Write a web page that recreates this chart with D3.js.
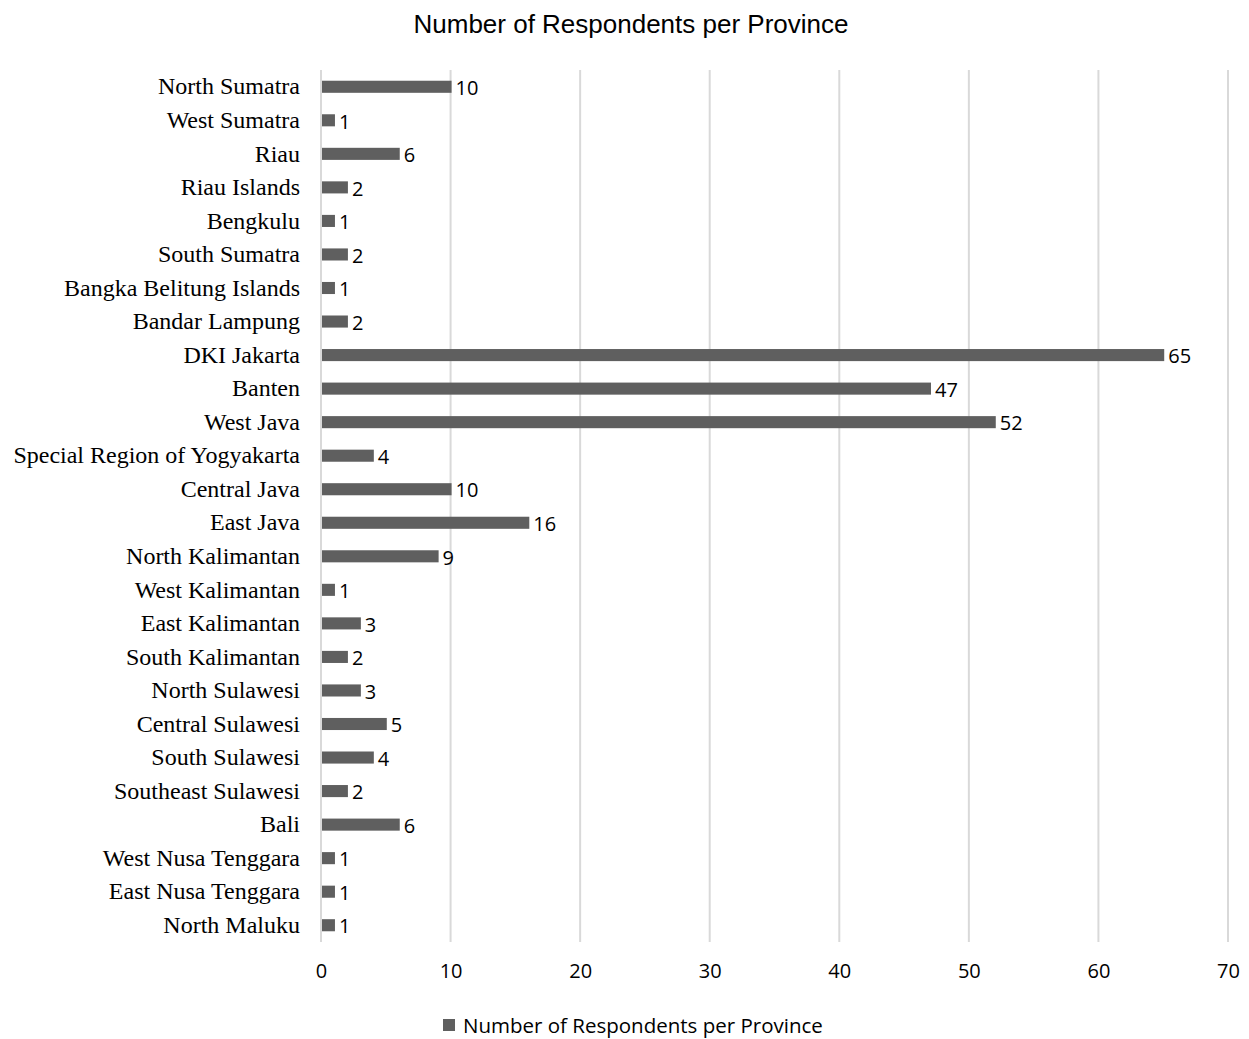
<!DOCTYPE html>
<html>
<head>
<meta charset="utf-8">
<script src="https://cdnjs.cloudflare.com/ajax/libs/d3/7.8.5/d3.min.js"></script>
<style>
  body { margin: 0; background: #fff; }
</style>
</head>
<body>
<div id="chart"></div>
<script>
var provinces = ["North Sumatra", "West Sumatra", "Riau", "Riau Islands", "Bengkulu", "South Sumatra",
  "Bangka Belitung Islands", "Bandar Lampung", "DKI Jakarta", "Banten", "West Java",
  "Special Region of Yogyakarta", "Central Java", "East Java", "North Kalimantan", "West Kalimantan",
  "East Kalimantan", "South Kalimantan", "North Sulawesi", "Central Sulawesi", "South Sulawesi",
  "Southeast Sulawesi", "Bali", "West Nusa Tenggara", "East Nusa Tenggara", "North Maluku"]
var respondents = [10, 1, 6, 2, 1, 2, 1, 2, 65, 47, 52, 4, 10, 16, 9, 1, 3, 2, 3, 5, 4, 2, 6, 1, 1, 1]
var xTicks = [0, 10, 20, 30, 40, 50, 60, 70]
var seriesName = "Number of Respondents per Province"

var width = 1249, height = 1039
var margin = {top: 70, left: 321, right: 21, bottom: 97}
var barColor = "#5f5f5f"
var numFont = "Open Sans, Lato, sans-serif"

var svg = d3.select('#chart').append('svg').attr('width', width).attr('height', height)

var x = d3.scaleLinear().domain([0, 70]).range([margin.left, width - margin.right])
var y = d3.scaleBand().domain(provinces).range([margin.top, height - margin.bottom]).paddingInner(0.64).paddingOuter(0.32)

// title
svg.append('text').attr('x', 631).attr('y', 33).attr('text-anchor', 'middle')
  .style('font-family', 'Liberation Sans, Arial, sans-serif').style('font-size', '26px').attr('fill', '#000')
  .text(seriesName)

// gridlines
svg.append('g').selectAll('line').data(xTicks).enter().append('line')
  .attr('x1', function(d){ return x(d) }).attr('x2', function(d){ return x(d) })
  .attr('y1', margin.top).attr('y2', height - margin.bottom)
  .attr('stroke', '#d9d9d9').attr('stroke-width', 2)

// tick labels
var xAxis = d3.axisBottom(x).tickValues(xTicks).tickSize(0).tickPadding(0)
var ax = svg.append('g').attr('transform', 'translate(0,' + (height - margin.bottom + 22) + ')').call(xAxis)
ax.select('.domain').remove()
ax.selectAll('text').style('font-family', numFont).style('font-size', '20px').attr('fill', '#000')

// category labels
var yAxis = d3.axisLeft(y).tickSize(0).tickPadding(21)
var ay = svg.append('g').attr('transform', 'translate(' + margin.left + ',0)').call(yAxis)
ay.select('.domain').remove()
ay.selectAll('text').style('font-family', 'Liberation Serif, Times New Roman, serif').style('font-size', '24px').attr('fill', '#000')

// bars
svg.append('g').selectAll('rect').data(provinces).enter().append('rect')
  .attr('x', x(0) + 1)
  .attr('y', function(d){ return y(d) })
  .attr('width', function(d, i){ return x(respondents[i]) - x(0) })
  .attr('height', y.bandwidth())
  .attr('fill', barColor)

// value labels
svg.append('g').selectAll('text').data(provinces).enter().append('text')
  .attr('x', function(d, i){ return x(respondents[i]) + 5 })
  .attr('y', function(d){ return y(d) + y.bandwidth() / 2 + 1 })
  .attr('dy', '0.36em')
  .style('font-family', numFont).style('font-size', '20px').attr('fill', '#000')
  .text(function(d, i){ return respondents[i] })

// legend
var lg = svg.append('g').attr('transform', 'translate(443,1019)')
lg.append('rect').attr('width', 12).attr('height', 12).attr('fill', barColor)
lg.append('text').attr('x', 20).attr('y', 7).attr('dy', '0.36em')
  .style('font-family', numFont).style('font-size', '20.5px').attr('fill', '#000')
  .text(seriesName)
</script>
</body>
</html>
